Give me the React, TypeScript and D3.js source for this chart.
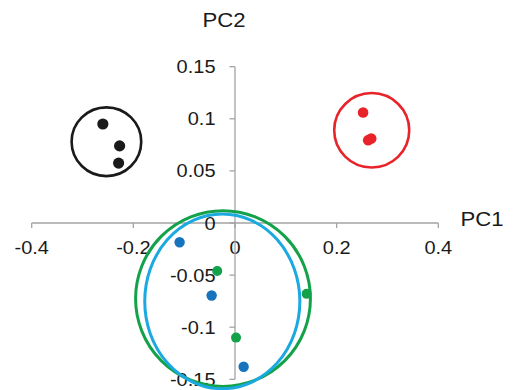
import React from "react";
import * as d3 from "d3";

const W = 513;
const H = 390;

const xTicks = [-0.4, -0.2, 0, 0.2, 0.4];
const xTickLabels = ["-0.4", "-0.2", "0", "0.2", "0.4"];
const yTicks = [-0.15, -0.1, -0.05, 0, 0.05, 0.1, 0.15];
const yTickLabels = ["-0.15", "-0.1", "-0.05", "0", "0.05", "0.1", "0.15"];

const blackX = [-0.26, -0.227, -0.229];
const blackY = [0.095, 0.074, 0.0575];
const redX = [0.252, 0.262, 0.268];
const redY = [0.106, 0.0795, 0.081];
const blueX = [-0.109, -0.046, 0.017];
const blueY = [-0.0185, -0.0696, -0.138];
const greenX = [-0.035, 0.002, 0.141];
const greenY = [-0.046, -0.11, -0.068];

// group ellipses: center and radii in data units
const ellipseNames = ["black", "red", "green", "blue"];
const ellipseCX = [-0.253, 0.269, -0.0236, -0.025];
const ellipseCY = [0.078, 0.089, -0.0725, -0.0752];
const ellipseRX = [0.0685, 0.0738, 0.172, 0.1526];
const ellipseRY = [0.033, 0.0357, 0.0843, 0.0838];
const ellipseColors = ["#1a1a1a", "#e8242a", "#13a24a", "#1aa9e0"];
const ellipseWidths = [2.6, 2.6, 3, 3];

const groups = [
  { xs: blackX, ys: blackY, color: "#1a1a1a", r: 5.6 },
  { xs: redX, ys: redY, color: "#e8242a", r: 5.3 },
  { xs: blueX, ys: blueY, color: "#1673bd", r: 5.2 },
  { xs: greenX, ys: greenY, color: "#13a24a", r: 5 },
];

const FONT = "Arial, 'Liberation Sans', sans-serif";

export default function App() {
  const x = d3.scaleLinear().domain([-0.4, 0.4]).range([31.7, 438.3]);
  const y = d3.scaleLinear().domain([-0.15, 0.15]).range([379.3, 66.7]);
  const x0 = x(0);
  const y0 = y(0);
  const axisColor = "#a3a3a3";
  const sx = 1.08;

  return (
    <svg
      width={W}
      height={H}
      style={{ position: "absolute", left: 0, top: 0, background: "#fff" }}
    >
      <rect x={0} y={0} width={W} height={H} fill="#fff" />
      {/* x axis */}
      <line x1={x(-0.4)} x2={x(0.4)} y1={y0} y2={y0} stroke={axisColor} strokeWidth={1.3} />
      {xTicks.map((t, i) => (
        <g key={"xt" + i}>
          <line x1={x(t)} x2={x(t)} y1={y0} y2={y0 + 5} stroke={axisColor} strokeWidth={1.3} />
          <text
            transform={`translate(${x(t)},${y0 + 31}) scale(${sx},1)`}
            textAnchor="middle"
            fontFamily={FONT}
            fontSize={18.5}
            fill="#1a1a1a"
          >
            {xTickLabels[i]}
          </text>
        </g>
      ))}
      {/* y axis */}
      <line x1={x0} x2={x0} y1={y(0.15)} y2={y(-0.15)} stroke={axisColor} strokeWidth={1.3} />
      {yTicks.map((t, i) => (
        <g key={"yt" + i}>
          <line x1={x0 - 5.5} x2={x0} y1={y(t)} y2={y(t)} stroke={axisColor} strokeWidth={1.3} />
          <text
            transform={`translate(${x0 - 19.5},${y(t) + 6.5}) scale(${sx},1)`}
            textAnchor="end"
            fontFamily={FONT}
            fontSize={18.5}
            fill="#1a1a1a"
          >
            {yTickLabels[i]}
          </text>
        </g>
      ))}
      <text
        transform={`translate(224,27) scale(${sx},1)`}
        textAnchor="middle"
        fontFamily={FONT}
        fontSize={20.5}
        fill="#1a1a1a"
      >
        PC2
      </text>
      <text
        transform={`translate(482,226) scale(${sx},1)`}
        textAnchor="middle"
        fontFamily={FONT}
        fontSize={20.5}
        fill="#1a1a1a"
      >
        PC1
      </text>
      {/* ellipses */}
      {ellipseNames.map((n, i) => (
        <ellipse
          key={n}
          cx={x(ellipseCX[i])}
          cy={y(ellipseCY[i])}
          rx={x(ellipseRX[i]) - x(0)}
          ry={y(0) - y(ellipseRY[i])}
          fill="none"
          stroke={ellipseColors[i]}
          strokeWidth={ellipseWidths[i]}
        />
      ))}
      {/* points */}
      {groups.map((g, gi) =>
        g.xs.map((v, i) => (
          <circle
            key={gi + "-" + i}
            cx={x(v)}
            cy={y(g.ys[i])}
            r={g.r}
            fill={g.color}
          />
        ))
      )}
    </svg>
  );
}
